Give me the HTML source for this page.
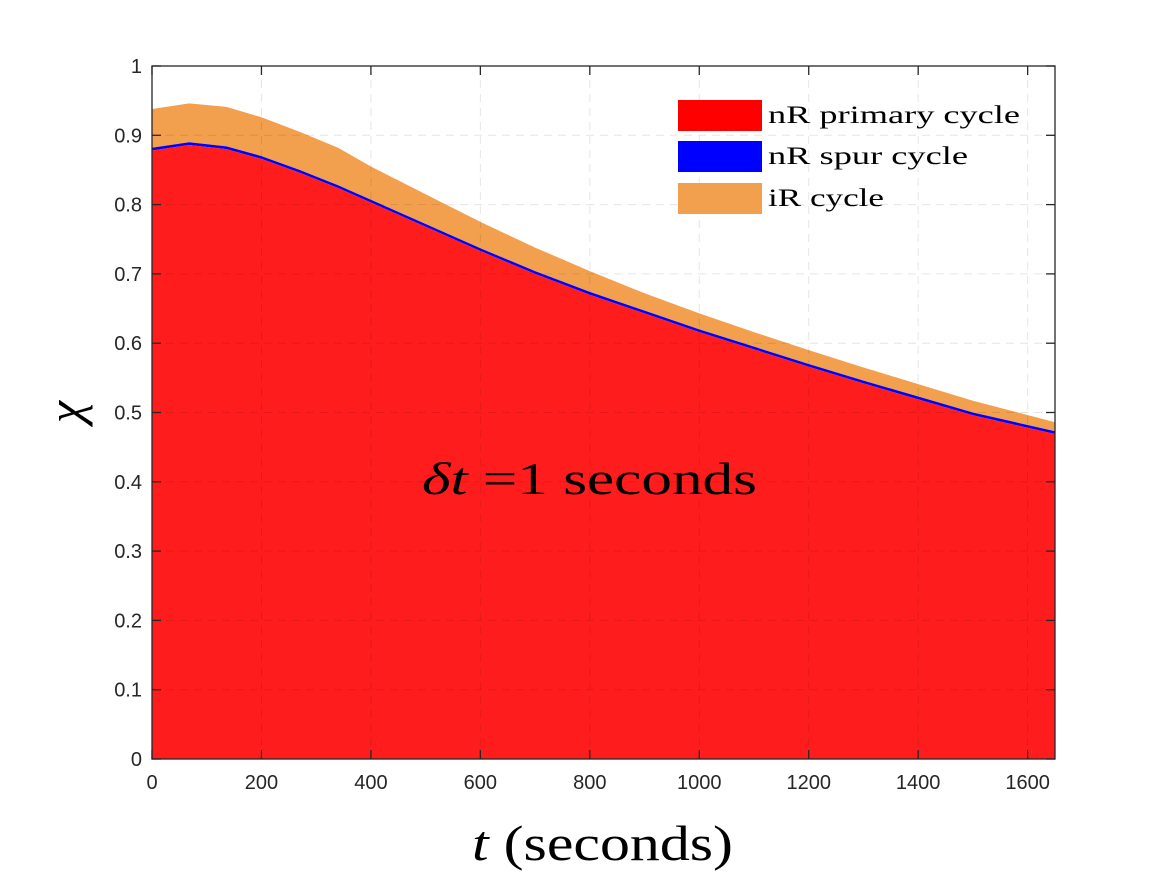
<!DOCTYPE html>
<html><head><meta charset="utf-8"><style>
body{margin:0;background:#fff;width:1167px;height:875px;overflow:hidden}
svg{display:block}
text{font-family:"Liberation Sans",sans-serif}
.serif{font-family:"Liberation Serif",serif}
</style></head><body>
<svg id="chart" width="1167" height="875" viewBox="0 0 1167 875"></svg>
<script>
const tVals=[0,68,136,200,270,340,400,500,600,700,800,900,1000,1100,1200,1300,1400,1500,1650];
const primary=[0.878,0.886,0.880,0.866,0.846,0.824,0.803,0.768,0.733,0.700,0.670,0.643,0.616,0.591,0.566,0.542,0.519,0.496,0.469];
const spur=[0.004,0.004,0.004,0.004,0.004,0.004,0.004,0.004,0.004,0.004,0.004,0.004,0.004,0.004,0.004,0.004,0.004,0.004,0.004];
const irTop=[0.938,0.946,0.941,0.926,0.905,0.882,0.855,0.815,0.775,0.738,0.704,0.672,0.643,0.616,0.590,0.565,0.541,0.517,0.486];
const xTicks=[0,200,400,600,800,1000,1200,1400,1600];
const yTicks=[0,0.1,0.2,0.3,0.4,0.5,0.6,0.7,0.8,0.9,1];
const X0=152,X1=1055,Y0=759,Y1=66,XMAX=1650;
const sx=v=>X0+v/XMAX*(X1-X0), sy=v=>Y0-v*(Y0-Y1);
const svg=document.getElementById('chart');const NS='http://www.w3.org/2000/svg';
function mk(tag,attrs,parent){const e=document.createElementNS(NS,tag);for(const k in attrs)e.setAttribute(k,attrs[k]);(parent||svg).appendChild(e);return e;}
function area(top,bot,fill,name){let d='M'+tVals.map((t,i)=>sx(t)+','+sy(top[i])).join('L');for(let i=tVals.length-1;i>=0;i--)d+='L'+sx(tVals[i])+','+sy(bot[i]);const p=mk('path',{d:d+'Z',fill:fill});}
const zero=tVals.map(()=>0);const spurTop=primary.map((v,i)=>v+spur[i]);
area(irTop,spurTop,'#f2a04e','area-ir-cycle');
area(spurTop,primary,'#0000ff','area-nr-spur-cycle');
area(primary,zero,'#ff1c1c','area-nr-primary-cycle');
xTicks.forEach(v=>{if(v>0){const g=mk('line',{x1:sx(v),x2:sx(v),y1:Y1,y2:Y0,stroke:'#000','stroke-opacity':0.1,'stroke-dasharray':'8,6'});}});
yTicks.forEach(v=>{if(v>0&&v<1){const g=mk('line',{x1:X0,x2:X1,y1:sy(v),y2:sy(v),stroke:'#000','stroke-opacity':0.1,'stroke-dasharray':'8,6'});}});
const box=mk('rect',{x:X0,y:Y1,width:X1-X0,height:Y0-Y1,fill:'none',stroke:'#262626','stroke-width':1.3});

xTicks.forEach(v=>{const x=sx(v);mk('line',{x1:x,x2:x,y1:Y0,y2:Y0-9,stroke:'#262626','stroke-width':1.3});mk('line',{x1:x,x2:x,y1:Y1,y2:Y1+9,stroke:'#262626','stroke-width':1.3});
const t=mk('text',{x:x,y:Y0+30,'text-anchor':'middle','font-size':20,fill:'#262626'});t.textContent=v;});
yTicks.forEach(v=>{const y=sy(v);mk('line',{x1:X0,x2:X0+9,y1:y,y2:y,stroke:'#262626','stroke-width':1.3});mk('line',{x1:X1,x2:X1-9,y1:y,y2:y,stroke:'#262626','stroke-width':1.3});
const t=mk('text',{x:X0-10,y:y+7,'text-anchor':'end','font-size':20,fill:'#262626'});t.textContent=Math.round(v*10)/10;});
</script>
<svg style="position:absolute;left:0;top:0" width="1167" height="875">
<g>
<rect x="678" y="100" width="84" height="31" fill="#ff0000"/>
<text class="serif" x="768" y="123" font-size="25" textLength="252" lengthAdjust="spacingAndGlyphs" fill="#000">nR primary cycle</text>
<rect x="678" y="141" width="84" height="31" fill="#0000ff"/>
<text class="serif" x="768" y="164" font-size="25" textLength="200" lengthAdjust="spacingAndGlyphs" fill="#000">nR spur cycle</text>
<rect x="678" y="183" width="84" height="31" fill="#f2a04e"/>
<text class="serif" x="768" y="206" font-size="25" textLength="116" lengthAdjust="spacingAndGlyphs" fill="#000">iR cycle</text>
</g>
<text class="serif" x="422" y="494" font-size="46" textLength="335" lengthAdjust="spacingAndGlyphs" fill="#000"><tspan font-style="italic">δt</tspan> =1 seconds</text>
<text class="serif" x="472" y="860" font-size="50" textLength="261" lengthAdjust="spacingAndGlyphs" fill="#000"><tspan font-style="italic">t</tspan> (seconds)</text>
<text class="serif" x="0" y="0" transform="translate(82,412) rotate(-90)" text-anchor="middle" font-size="50" font-style="italic" fill="#000">χ</text>
</svg>
</body></html>
